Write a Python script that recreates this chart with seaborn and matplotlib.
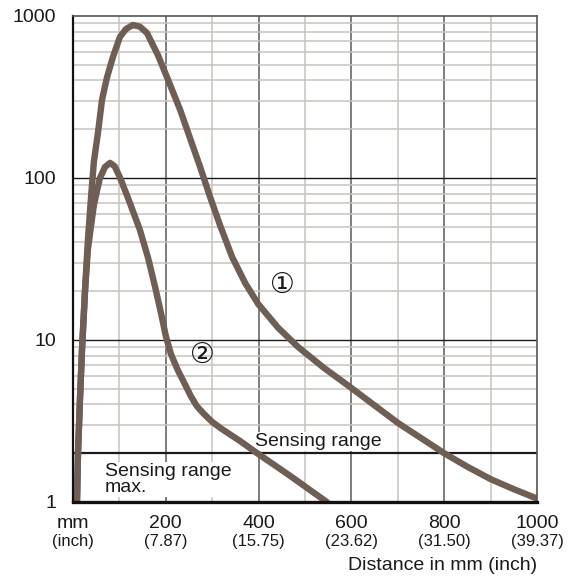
import matplotlib
matplotlib.use("Agg")
import matplotlib.pyplot as plt
import matplotlib.transforms as mtransforms
import seaborn as sns
import pandas as pd

# curve 1: distance (mm) vs excess gain
curve1_x = [8.6, 10.8, 15, 19.4, 26, 32, 39, 45, 54, 62.5, 73, 86, 101,
            114, 129, 144, 159.5, 183, 205, 231, 252, 274, 295, 317, 343,
            371, 399, 442, 485, 541, 597, 700, 800, 850, 901, 950, 1000]
curve1_y = [1, 2, 4.3, 8.7, 20.4, 41, 77, 126, 192, 303, 415, 558, 741,
            830, 880, 860, 785, 574, 403, 263, 177, 117, 77, 51, 32.5,
            22.5, 16.7, 11.9, 9.06, 6.72, 5.13, 3.08, 2.0, 1.65, 1.38,
            1.2, 1.05]

# curve 2
curve2_x = [8.6, 10.8, 15, 19.4, 26, 32, 39, 45, 52, 58, 69, 80, 90, 101,
            118, 144, 162, 177, 190, 200, 211, 226, 241, 254, 267, 282,
            300, 321, 360, 397, 468, 547]
curve2_y = [1, 2, 4.3, 8.7, 20.4, 36, 51, 68, 84, 100, 117, 124, 118,
            101, 76, 48, 32, 21.2, 14.5, 10.6, 8.2, 6.5, 5.35, 4.5, 3.9,
            3.5, 3.12, 2.82, 2.38, 2.0, 1.45, 1.0]

x_ticks = [0, 200, 400, 600, 800, 1000]
x_tick_mm = ['mm', '200', '400', '600', '800', '1000']
x_tick_inch = ['(inch)', '(7.87)', '(15.75)', '(23.62)', '(31.50)', '(39.37)']
y_ticks = [1, 10, 100, 1000]
sensing_range = 2

sns.set_theme(style='white')
plt.rcParams['font.family'] = ['Liberation Sans', 'DejaVu Sans']

curve_color = '#6e5e53'
minor_grid = '#c8c3bf'
major_grid = '#5a5a5a'

fig = plt.figure(figsize=(5.68, 5.76), dpi=100)
ax = fig.add_axes([73 / 568, 1 - 502 / 576, 464 / 568, 486 / 576])
ax.set_yscale('log')
ax.set_xlim(0, 1000)
ax.set_ylim(1, 1000)

# grid
for xv in range(100, 1000, 200):
    ax.axvline(xv, color=minor_grid, lw=1.1, zorder=1)
for xv in range(200, 1000, 200):
    ax.axvline(xv, color=major_grid, lw=1.1, zorder=1)
for dec in [1, 10, 100]:
    for m in range(2, 10):
        ax.axhline(dec * m, color=minor_grid, lw=1.1, zorder=1)
for yv in [10, 100]:
    ax.axhline(yv, color='#1a1a1a', lw=1.0, zorder=1.5)
ax.axhline(sensing_range, color='#1a1a1a', lw=1.6, zorder=1.5)

df1 = pd.DataFrame({'x': curve1_x, 'y': curve1_y})
df2 = pd.DataFrame({'x': curve2_x, 'y': curve2_y})
for df in (df1, df2):
    sns.lineplot(data=df, x='x', y='y', sort=False, estimator=None,
                 color=curve_color, lw=4.6, ax=ax, zorder=4,
                 solid_joinstyle='round', solid_capstyle='round')

# labels inside the plot
box = dict(facecolor='white', edgecolor='none', pad=0.5)
ax.text(392, 2.1, 'Sensing range', fontsize=14, color='#1a1a1a',
        ha='left', va='bottom', bbox=box, zorder=3)
ax.text(69, 1.38, 'Sensing range\nmax.', fontsize=14, color='#1a1a1a',
        ha='left', va='center', linespacing=0.95, bbox=box, zorder=3)
ax.text(452, 22, '\u2460', fontsize=20, family=['DejaVu Sans'],
        ha='center', va='center', color='#1a1a1a', zorder=3)
ax.text(278, 8.1, '\u2461', fontsize=20, family=['DejaVu Sans'],
        ha='center', va='center', color='#1a1a1a', zorder=3)

# spines
for side in ['top', 'right']:
    ax.spines[side].set_color('#555555')
    ax.spines[side].set_linewidth(1.2)
ax.spines['left'].set_color('#111111')
ax.spines['left'].set_linewidth(1.6)
ax.spines['bottom'].set_color('#111111')
ax.spines['bottom'].set_linewidth(2.4)
for s in ax.spines.values():
    s.set_zorder(5)

ax.set_yticks(y_ticks)
ax.set_yticklabels([str(v) for v in y_ticks])
ax.yaxis.set_minor_locator(matplotlib.ticker.NullLocator())
ax.set_xticks(x_ticks)
ax.set_xticklabels(x_tick_mm)
ax.tick_params(axis='both', length=0, labelsize=14, colors='#1a1a1a')
ax.tick_params(axis='y', pad=12)
ax.tick_params(axis='x', pad=9)
ax.set_xlabel('')
ax.set_ylabel('')

trans = mtransforms.blended_transform_factory(ax.transData, ax.transAxes)
for xv, lab in zip(x_ticks, x_tick_inch):
    ax.text(xv, -0.082, lab, transform=trans, fontsize=12, color='#1a1a1a',
            ha='center', va='center', clip_on=False)
ax.text(1.0, -0.13, 'Distance in mm (inch)', transform=ax.transAxes,
        fontsize=14, color='#1a1a1a', ha='right', va='center')

fig.savefig('out.png', dpi=100, facecolor='white')
